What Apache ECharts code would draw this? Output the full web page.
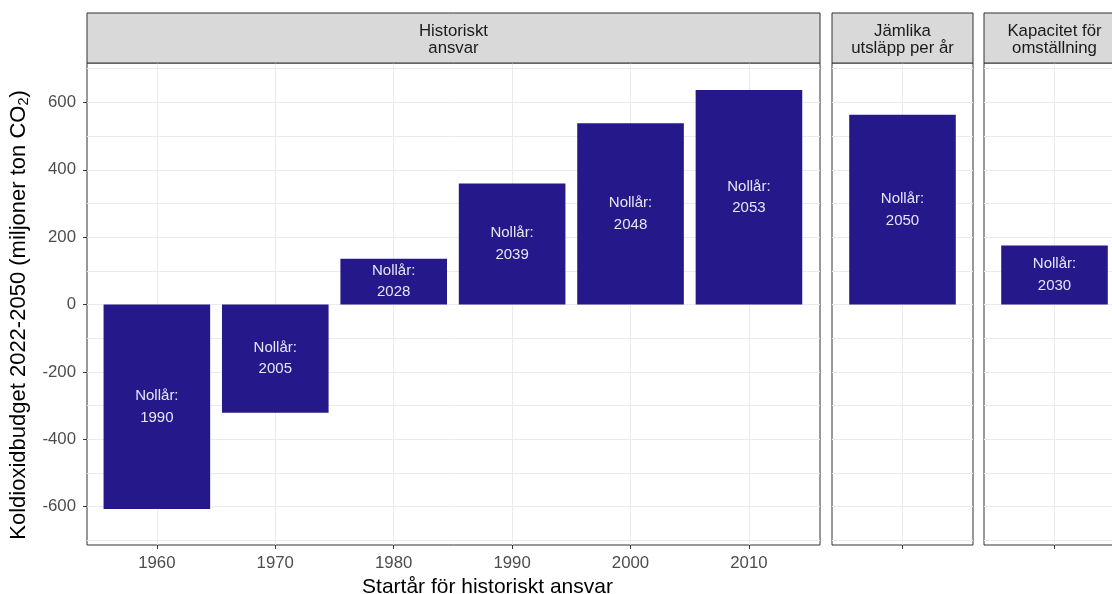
<!DOCTYPE html>
<html>
<head>
<meta charset="utf-8">
<script src="https://cdn.jsdelivr.net/npm/echarts@6/dist/echarts.min.js"></script>
<style>
  html, body { margin: 0; padding: 0; background: #ffffff; }
  #chart { width: 1112px; height: 594px; }
</style>
</head>
<body>
<div id="chart"></div>
<script>
// Carbon budget 2022-2050 under three allocation principles
const panelTitles = ['Historiskt\nansvar', 'Jämlika\nutsläpp per år', 'Kapacitet för\nomställning'];

// Panel 1: historical responsibility, by start year
const startYears = [1960, 1970, 1980, 1990, 2000, 2010];
const historicBudget = [-607, -321, 136, 359, 538, 637];
const historicZeroYear = [1990, 2005, 2028, 2039, 2048, 2053];

// Panel 2: equal emissions per year
const equalBudget = [563];
const equalZeroYear = [2050];

// Panel 3: capacity for transition
const capacityBudget = [175];
const capacityZeroYear = [2030];

const yMajorTicks = [-600, -400, -200, 0, 200, 400, 600];
const yMinorTicks = [-700, -500, -300, -100, 100, 300, 500, 700];

const BAR_COLOR = '#24188A';
const GRID_COLOR = '#EBEBEB';
const FRAME_COLOR = '#333333';
const FONT = '"Liberation Sans", Arial, Helvetica, sans-serif';
const TICK_SIZE = 16.8;
const TITLE_SIZE = 21;

// Panel frames (px); the last panel runs past the right edge
const panels = [
  { left: 87, width: 733 },
  { left: 832, width: 141 },
  { left: 984, width: 141 }
];
const PANEL_TOP = 63;
const PANEL_BOTTOM = 545;
const STRIP_TOP = 13;
const CHART_H = 594;
const CHART_W = 1112;

const Y_MIN = -714, Y_MAX = 717;

const grids = panels.map(p => ({
  left: p.left,
  width: p.width,
  top: PANEL_TOP,
  bottom: CHART_H - PANEL_BOTTOM,
  show: true,
  borderColor: FRAME_COLOR,
  borderWidth: 1,
  backgroundColor: '#ffffff',
  containLabel: false,
  outerBoundsMode: 'none'
}));

function yAxisPair(gridIndex, withLabels) {
  return [
    {
      type: 'value', gridIndex, min: Y_MIN, max: Y_MAX, position: 'left',
      axisLine: { show: false, onZero: false },
      axisTick: { show: withLabels, length: 4, lineStyle: { color: FRAME_COLOR }, customValues: yMajorTicks },
      axisLabel: {
        show: withLabels, customValues: yMajorTicks, margin: 11,
        color: '#4D4D4D', fontSize: TICK_SIZE, fontFamily: FONT
      },
      splitLine: { show: true, lineStyle: { color: GRID_COLOR, width: 1 } },
      name: withLabels ? 'Koldioxidbudget 2022-2050 (miljoner ton CO{sub|2})' : '',
      nameLocation: 'middle',
      nameGap: 49,
      nameRotate: 90,
      nameTextStyle: {
        color: '#000000', fontSize: 22, fontFamily: FONT,
        padding: [0, 22, 0, 0],
        rich: { sub: { fontSize: 14.5, fontFamily: FONT, color: '#000000', padding: [11, 0, 0, 0] } }
      },
      z: 1
    },
    {
      type: 'value', gridIndex, min: Y_MIN, max: Y_MAX, position: 'left',
      axisLine: { show: false, onZero: false },
      axisTick: { show: false, customValues: yMinorTicks },
      axisLabel: { show: false, customValues: yMinorTicks },
      splitLine: { show: true, lineStyle: { color: GRID_COLOR, width: 1 } }
    }
  ];
}

const yAxes = [].concat(yAxisPair(0, true), yAxisPair(1, false), yAxisPair(2, false));

function singleBarXAxis(gridIndex) {
  return {
    type: 'value', gridIndex, min: 0, max: 2,
    axisLine: { show: false, onZero: false },
    axisTick: { show: true, length: 4, lineStyle: { color: FRAME_COLOR }, customValues: [1] },
    axisLabel: { show: false, customValues: [1] },
    splitLine: { show: true, lineStyle: { color: GRID_COLOR, width: 1 } }
  };
}

const xAxes = [
  {
    type: 'value', gridIndex: 0, min: 1954.1, max: 2016,
    axisLine: { show: false, onZero: false },
    axisTick: { show: true, length: 4, lineStyle: { color: FRAME_COLOR }, customValues: startYears },
    axisLabel: {
      customValues: startYears, margin: 10, color: '#4D4D4D',
      fontSize: TICK_SIZE, fontFamily: FONT,
      formatter: v => String(v)
    },
    splitLine: { show: true, lineStyle: { color: GRID_COLOR, width: 1 } },
    name: 'Startår för historiskt ansvar',
    nameLocation: 'middle',
    nameGap: 25,
    nameTextStyle: { color: '#000000', fontSize: TITLE_SIZE, fontFamily: FONT, padding: [0, 0, 0, 68] }
  },
  singleBarXAxis(1),
  singleBarXAxis(2)
];

const barLabel = {
  show: true,
  position: 'inside',
  color: '#E8E6F2',
  fontSize: 15,
  lineHeight: 21.5,
  fontFamily: FONT
};

function barSeries(xIndex, yIndex, xs, values, zeroYears) {
  return {
    type: 'bar',
    xAxisIndex: xIndex,
    yAxisIndex: yIndex,
    barWidth: 106.6,
    itemStyle: { color: BAR_COLOR },
    label: Object.assign({}, barLabel, {
      formatter: p => 'Nollår:\n' + zeroYears[p.dataIndex]
    }),
    data: values.map((v, i) => [xs[i], v]),
    z: 3
  };
}

// Facet strips above each panel
const strips = [];
panels.forEach((p, i) => {
  strips.push({
    type: 'rect',
    shape: { x: p.left, y: STRIP_TOP, width: p.width, height: PANEL_TOP - STRIP_TOP },
    style: { fill: '#D9D9D9', stroke: FRAME_COLOR, lineWidth: 1 },
    z: 10
  });
  strips.push({
    type: 'text',
    x: p.left + p.width / 2,
    y: (STRIP_TOP + PANEL_TOP) / 2 + 2,
    style: {
      text: panelTitles[i],
      fill: '#1A1A1A',
      fontSize: TICK_SIZE,
      lineHeight: 17.5,
      fontFamily: FONT,
      align: 'center',
      verticalAlign: 'middle'
    },
    z: 11
  });
});

const option = {
  backgroundColor: '#ffffff',
  animation: false,
  grid: grids,
  xAxis: xAxes,
  yAxis: yAxes,
  series: [
    barSeries(0, 0, startYears, historicBudget, historicZeroYear),
    barSeries(1, 2, [1], equalBudget, equalZeroYear),
    barSeries(2, 4, [1], capacityBudget, capacityZeroYear)
  ],
  graphic: strips
};

const chart = echarts.init(document.getElementById('chart'), null, { renderer: 'canvas', width: CHART_W, height: CHART_H });
chart.setOption(option);
</script>
</body>
</html>
